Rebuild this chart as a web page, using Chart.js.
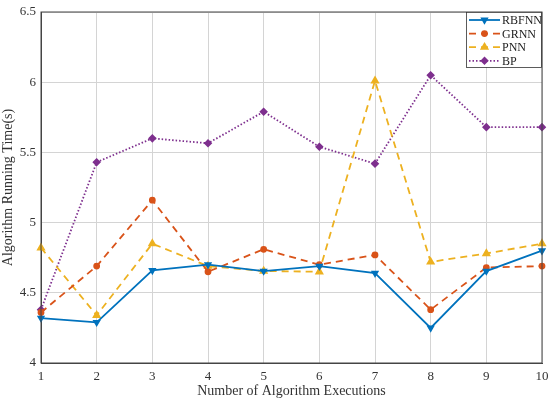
<!DOCTYPE html>
<html>
<head>
<meta charset="utf-8">
<script src="https://cdn.jsdelivr.net/npm/chart.js@4/dist/chart.umd.min.js"></script>
<style>
  html, body { margin: 0; padding: 0; background: #fff; }
  #wrap { position: relative; width: 549px; height: 400px; }
</style>
</head>
<body>
<div id="wrap"><canvas id="runTimeChart" width="549" height="400"></canvas></div>
<script>
// Chart values
const executions = ['1', '2', '3', '4', '5', '6', '7', '8', '9', '10'];
const rbfnnTimes = [4.32, 4.29, 4.66, 4.70, 4.655, 4.69, 4.64, 4.25, 4.655, 4.80];
const grnnTimes = [4.36, 4.69, 5.16, 4.65, 4.81, 4.70, 4.77, 4.38, 4.68, 4.69];
const pnnTimes = [4.82, 4.34, 4.85, 4.69, 4.655, 4.65, 6.01, 4.72, 4.78, 4.85];
const bpTimes = [4.38, 5.43, 5.60, 5.565, 5.79, 5.54, 5.42, 6.05, 5.68, 5.68];
const yTicks = [4, 4.5, 5, 5.5, 6, 6.5];

const serif = "'Liberation Serif', 'DejaVu Serif', serif";

// legend drawn in the MATLAB style: line sample with marker, then the name
const matlabLegend = {
    id: 'matlabLegend',
    afterDraw(chart) {
        const ctx = chart.ctx;
        const x0 = 466, y0 = 12, w = 75, rowH = 13.6;
        const sets = chart.data.datasets;
        ctx.save();
        ctx.fillStyle = '#fff';
        ctx.fillRect(x0, y0, w, 55);
        ctx.strokeStyle = '#333';
        ctx.lineWidth = 0.8;
        ctx.strokeRect(x0 + 0.5, y0 + 0.5, w, 55);
        sets.forEach(function(ds, i) {
            const y = y0 + 8 + i * rowH;
            ctx.strokeStyle = ds.borderColor;
            ctx.lineWidth = ds.borderWidth;
            ctx.setLineDash(ds.borderDash || []);
            ctx.beginPath();
            ctx.moveTo(x0 + 3, y);
            ctx.lineTo(x0 + 34, y);
            ctx.stroke();
            ctx.setLineDash([]);
            ctx.fillStyle = ds.borderColor;
            Chart.helpers.drawPoint(ctx, {
                pointStyle: ds.pointStyle,
                rotation: ds.pointRotation || 0,
                radius: ds.pointRadius,
                borderWidth: 1
            }, x0 + 18.5, y);
            ctx.fillStyle = '#222';
            ctx.font = '12px ' + serif;
            ctx.textBaseline = 'middle';
            ctx.fillText(ds.label, x0 + 36, y + 1);
        });
        ctx.restore();
    }
};

function makeSeries(label, data, color, dash, style, radius, rotation) {
    return {
        label: label,
        data: data,
        borderColor: color,
        backgroundColor: color,
        pointBackgroundColor: color,
        pointBorderColor: color,
        borderWidth: 1.8,
        borderDash: dash,
        pointStyle: style,
        pointRadius: radius,
        pointRotation: rotation,
        pointHoverRadius: radius,
        tension: 0
    };
}

document.addEventListener('DOMContentLoaded', function() {
    const ctx = document.getElementById('runTimeChart').getContext('2d');
    new Chart(ctx, {
        type: 'line',
        data: {
            labels: executions,
            datasets: [
                makeSeries('RBFNN', rbfnnTimes, '#0072BD', [], 'triangle', 3, 180),
                makeSeries('GRNN', grnnTimes, '#D95319', [7, 5], 'circle', 2.5, 0),
                makeSeries('PNN', pnnTimes, '#EDB120', [7, 5], 'triangle', 3.5, 0),
                makeSeries('BP', bpTimes, '#7E2F8E', [1.5, 2], 'rectRot', 3, 0)
            ]
        },
        options: {
            responsive: false,
            animation: false,
            layout: { padding: { top: 12, right: 7, left: 0, bottom: 0 } },
            scales: {
                x: {
                    type: 'category',
                    offset: false,
                    grid: { color: '#d4d4d4', drawTicks: false },
                    border: { color: '#444' },
                    ticks: {
                        color: '#333',
                        font: { family: serif, size: 13 },
                        padding: 6,
                        maxRotation: 0
                    },
                    title: {
                        display: true,
                        text: 'Number of Algorithm Executions',
                        color: '#333',
                        font: { family: serif, size: 14 },
                        padding: { top: 0, bottom: 0 }
                    },
                    afterFit(scale) {
                        scale.height = 37;
                        scale.paddingLeft = 0;
                        scale.paddingRight = 0;
                    }
                },
                y: {
                    min: 4,
                    max: 6.5,
                    afterBuildTicks(scale) {
                        scale.ticks = yTicks.map(v => ({ value: v }));
                    },
                    grid: { color: '#d4d4d4', drawTicks: false },
                    border: { color: '#444' },
                    ticks: {
                        color: '#333',
                        font: { family: serif, size: 13 },
                        padding: 5,
                        callback: v => String(v)
                    },
                    title: {
                        display: true,
                        text: 'Algorithm Running Time(s)',
                        color: '#333',
                        font: { family: serif, size: 14 },
                        padding: { top: 0, bottom: 2 }
                    },
                    afterFit(scale) {
                        scale.width = 41;
                        scale.paddingTop = 0;
                        scale.paddingBottom = 0;
                    }
                }
            },
            plugins: {
                legend: { display: false },
                tooltip: { enabled: false }
            }
        },
        plugins: [matlabLegend, {
            id: 'frame',
            afterDatasetsDraw(chart) {
                const a = chart.chartArea;
                const c = chart.ctx;
                c.save();
                c.strokeStyle = '#444';
                c.lineWidth = 1;
                c.strokeRect(a.left, a.top, a.right - a.left, a.bottom - a.top);
                c.restore();
            }
        }]
    });
});
</script>
</body>
</html>
